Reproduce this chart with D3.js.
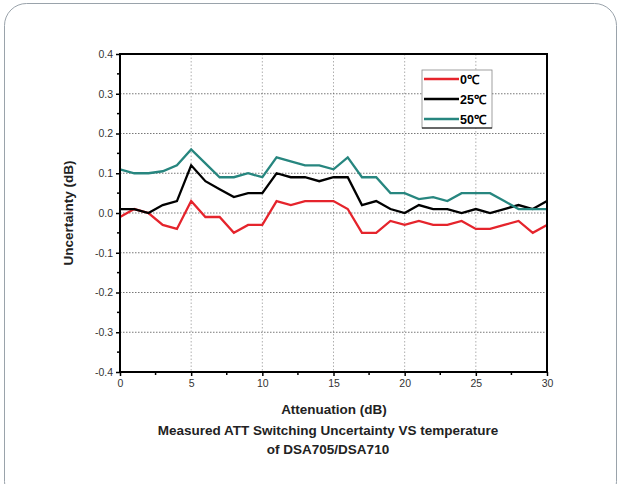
<!DOCTYPE html>
<html>
<head>
<meta charset="utf-8">
<script src="https://cdn.jsdelivr.net/npm/d3@7"></script>
<style>
  body { margin: 0; background: #fff; }
  svg { display: block; font-family: Arial, "Liberation Sans", sans-serif; }
</style>
</head>
<body>
<svg id="chart" width="622" height="484"></svg>
<script>
// donnees
const attenuation = d3.range(0, 31)
const series0 = [-0.01, 0.01, 0.0, -0.03, -0.04, 0.03, -0.01, -0.01, -0.05, -0.03, -0.03, 0.03, 0.02, 0.03, 0.03, 0.03, 0.01, -0.05, -0.05, -0.02, -0.03, -0.02, -0.03, -0.03, -0.02, -0.04, -0.04, -0.03, -0.02, -0.05, -0.03]
const series25 = [0.01, 0.01, 0.0, 0.02, 0.03, 0.12, 0.08, 0.06, 0.04, 0.05, 0.05, 0.10, 0.09, 0.09, 0.08, 0.09, 0.09, 0.02, 0.03, 0.01, 0.0, 0.02, 0.01, 0.01, 0.0, 0.01, 0.0, 0.01, 0.02, 0.01, 0.03]
const series50 = [0.11, 0.10, 0.10, 0.105, 0.12, 0.16, 0.125, 0.09, 0.09, 0.10, 0.09, 0.14, 0.13, 0.12, 0.12, 0.11, 0.14, 0.09, 0.09, 0.05, 0.05, 0.035, 0.04, 0.03, 0.05, 0.05, 0.05, 0.03, 0.01, 0.01, 0.01]
const legendLabels = ['0℃', '25℃', '50℃']
const xTicks = [0, 5, 10, 15, 20, 25, 30]
const yTicks = [-0.4, -0.3, -0.2, -0.1, 0.0, 0.1, 0.2, 0.3, 0.4]

const COULEURS = ['#e5242c', '#000000', '#27867f']
const svg = d3.select('#chart')

//Cadre arrondi
svg.append('rect').attr('x', 4.5).attr('y', 3.5).attr('width', 612).attr('height', 500)
  .attr('rx', 22).attr('fill', 'none').attr('stroke', '#9aa3ab').attr('stroke-width', 1)

const GAUCHE = 120, DROITE = 547, HAUT = 54, BAS = 372
const x = d3.scaleLinear().domain([0, 30]).range([GAUCHE, DROITE])
const y = d3.scaleLinear().domain([-0.4, 0.4]).range([BAS, HAUT])

//Grille
svg.append('g').selectAll('line').data(xTicks.slice(1, -1)).join('line')
  .attr('x1', d => x(d)).attr('x2', d => x(d)).attr('y1', HAUT).attr('y2', BAS)
  .attr('stroke', '#9a9a9a').attr('stroke-width', 0.8).attr('stroke-dasharray', '1.5,2')
svg.append('g').selectAll('line').data(yTicks.slice(1, -1)).join('line')
  .attr('x1', GAUCHE).attr('x2', DROITE).attr('y1', d => y(d)).attr('y2', d => y(d))
  .attr('stroke', '#555').attr('stroke-width', 0.8).attr('stroke-dasharray', '1.5,1.5')

//Axes (tiret simple pour le signe moins)
const fmtY = d => d3.format('.1f')(d).replace('−', '-')
const axeX = svg.append('g').attr('transform', 'translate(0,' + BAS + ')')
  .call(d3.axisBottom(x).tickValues(xTicks).tickSize(4).tickPadding(4).tickFormat(d3.format('d')))
const axeY = svg.append('g').attr('transform', 'translate(' + GAUCHE + ',0)')
  .call(d3.axisLeft(y).tickValues(yTicks).tickSize(4).tickPadding(3).tickFormat(fmtY))
;[axeX, axeY].forEach(a => {
  a.select('.domain').remove()
  a.selectAll('line').attr('stroke', '#000').attr('stroke-width', 1.5)
  a.selectAll('text').attr('fill', '#333').style('font-size', '10.5px')
})
//Petites graduations
svg.append('g').selectAll('line').data(d3.range(2.5, 30, 5)).join('line')
  .attr('x1', d => x(d)).attr('x2', d => x(d)).attr('y1', BAS).attr('y2', BAS + 3)
  .attr('stroke', '#000').attr('stroke-width', 1.5)
svg.append('g').selectAll('line').data(d3.range(-0.35, 0.4, 0.1)).join('line')
  .attr('x1', GAUCHE - 3).attr('x2', GAUCHE).attr('y1', d => y(d)).attr('y2', d => y(d))
  .attr('stroke', '#000').attr('stroke-width', 1.5)

//Courbes
const ligne = d3.line().x((d, i) => x(attenuation[i])).y(d => y(d))
;[series0, series25, series50].forEach((s, i) => {
  svg.append('path').datum(s).attr('d', ligne).attr('fill', 'none')
    .attr('stroke', COULEURS[i]).attr('stroke-width', 2.3).attr('stroke-linejoin', 'miter')
})

//Cadre du graphique
svg.append('rect').attr('x', GAUCHE).attr('y', HAUT).attr('width', DROITE - GAUCHE).attr('height', BAS - HAUT)
  .attr('fill', 'none').attr('stroke', '#000').attr('stroke-width', 2)

//Legende
const leg = svg.append('g').attr('transform', 'translate(422,70)')
leg.append('rect').attr('width', 70).attr('height', 58).attr('fill', '#fff')
  .attr('stroke', '#888').attr('stroke-width', 0.8)
leg.append('line').attr('x1', 0).attr('x2', 70).attr('y1', 58).attr('y2', 58).attr('stroke', '#000').attr('stroke-width', 1)
legendLabels.forEach((l, i) => {
  const g = leg.append('g').attr('transform', 'translate(0,' + (9 + i * 20) + ')')
  g.append('line').attr('x1', 2).attr('x2', 37).attr('stroke', COULEURS[i]).attr('stroke-width', 2.3)
  g.append('text').text(l).attr('x', 38).attr('y', 4.5).style('font-size', '12.5px').style('font-weight', 'bold')
})

//Titres
const styleTitre = t => t.attr('text-anchor', 'middle').style('font-size', '13.5px')
  .style('font-weight', 'bold').attr('fill', '#222')
svg.append('text').text('Uncertainty (dB)').attr('transform', 'translate(73,' + ((HAUT + BAS) / 2) + ') rotate(-90)').call(styleTitre)
svg.append('text').text('Attenuation (dB)').attr('x', 334).attr('y', 414).call(styleTitre)
svg.append('text').text('Measured ATT Switching Uncertainty VS temperature').attr('x', 328).attr('y', 435).call(styleTitre)
svg.append('text').text('of DSA705/DSA710').attr('x', 328).attr('y', 454).call(styleTitre)
</script>
</body>
</html>
